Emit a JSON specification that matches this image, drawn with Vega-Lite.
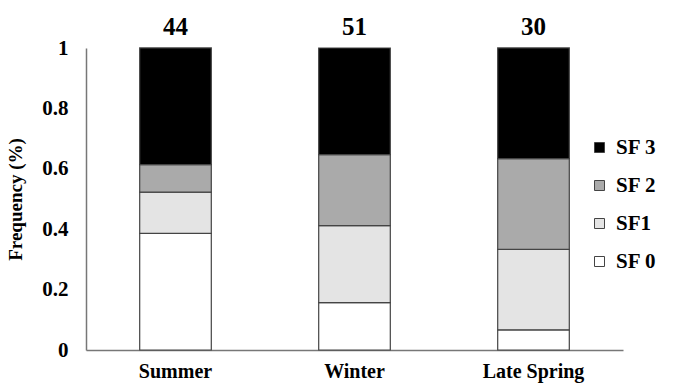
{
  "$schema": "https://vega.github.io/schema/vega-lite/v6.json",
  "width": 537,
  "height": 302,
  "autosize": {"type": "none"},
  "padding": {"left": 86, "top": 48, "right": 55, "bottom": 34},
  "background": "white",
  "config": {
    "font": "Liberation Serif",
    "view": {"stroke": null}
  },
  "datasets": {
    "segments": [
      {"season": "Summer", "sf": "SF 0", "ord": 0, "freq": 0.3864},
      {"season": "Summer", "sf": "SF1", "ord": 1, "freq": 0.1364},
      {"season": "Summer", "sf": "SF 2", "ord": 2, "freq": 0.0909},
      {"season": "Summer", "sf": "SF 3", "ord": 3, "freq": 0.3864},
      {"season": "Winter", "sf": "SF 0", "ord": 0, "freq": 0.1569},
      {"season": "Winter", "sf": "SF1", "ord": 1, "freq": 0.2549},
      {"season": "Winter", "sf": "SF 2", "ord": 2, "freq": 0.2353},
      {"season": "Winter", "sf": "SF 3", "ord": 3, "freq": 0.3529},
      {"season": "Late Spring", "sf": "SF 0", "ord": 0, "freq": 0.0667},
      {"season": "Late Spring", "sf": "SF1", "ord": 1, "freq": 0.2667},
      {"season": "Late Spring", "sf": "SF 2", "ord": 2, "freq": 0.3},
      {"season": "Late Spring", "sf": "SF 3", "ord": 3, "freq": 0.3667}
    ],
    "totals": [
      {"season": "Summer", "n": 44, "top": 1},
      {"season": "Winter", "n": 51, "top": 1},
      {"season": "Late Spring", "n": 30, "top": 1}
    ]
  },
  "encoding": {
    "x": {
      "field": "season",
      "type": "nominal",
      "sort": ["Summer", "Winter", "Late Spring"],
      "scale": {"paddingInner": 0.6, "paddingOuter": 0.3},
      "axis": {
        "title": null,
        "labelAngle": 0,
        "ticks": false,
        "labelPadding": 11,
        "labelFont": "Liberation Serif",
        "labelFontWeight": "bold",
        "labelFontSize": 20,
        "labelColor": "#000000",
        "domainColor": "#777777",
        "domainWidth": 1.5
      }
    }
  },
  "layer": [
    {
      "data": {"name": "segments"},
      "mark": {"type": "bar", "stroke": "#444444", "strokeWidth": 1.2},
      "encoding": {
        "y": {
          "field": "freq",
          "type": "quantitative",
          "stack": "zero",
          "scale": {"domain": [0, 1], "nice": false},
          "axis": {
            "title": "Frequency (%)",
            "titleFont": "Liberation Serif",
            "titleFontWeight": "bold",
            "titleFontSize": 19,
            "titleColor": "#000000",
            "titlePadding": 16,
            "values": [0, 0.2, 0.4, 0.6, 0.8, 1],
            "format": ".1~f",
            "grid": false,
            "ticks": false,
            "labelPadding": 18,
            "labelFont": "Liberation Serif",
            "labelFontWeight": "bold",
            "labelFontSize": 21,
            "labelColor": "#000000",
            "domainColor": "#777777",
            "domainWidth": 1.5
          }
        },
        "order": {"field": "ord", "type": "quantitative", "sort": "ascending"},
        "fill": {
          "field": "sf",
          "type": "nominal",
          "scale": {
            "domain": ["SF 3", "SF 2", "SF1", "SF 0"],
            "range": ["#000000", "#aaaaaa", "#e4e4e4", "#ffffff"]
          },
          "legend": {
            "title": null,
            "orient": "none",
            "legendX": 503,
            "legendY": 89,
            "symbolType": "square",
            "symbolSize": 100,
            "symbolStrokeColor": "#444444",
            "symbolStrokeWidth": 1,
            "labelFont": "Liberation Serif",
            "labelFontWeight": "bold",
            "labelFontSize": 21,
            "labelColor": "#000000",
            "labelOffset": 6,
            "rowPadding": 16
          }
        }
      }
    },
    {
      "data": {"name": "totals"},
      "mark": {
        "type": "text",
        "baseline": "alphabetic",
        "dy": -13,
        "font": "Liberation Serif",
        "fontWeight": "bold",
        "fontSize": 25,
        "color": "#000000"
      },
      "encoding": {
        "y": {"field": "top", "type": "quantitative"},
        "text": {"field": "n", "type": "quantitative"}
      }
    }
  ]
}
